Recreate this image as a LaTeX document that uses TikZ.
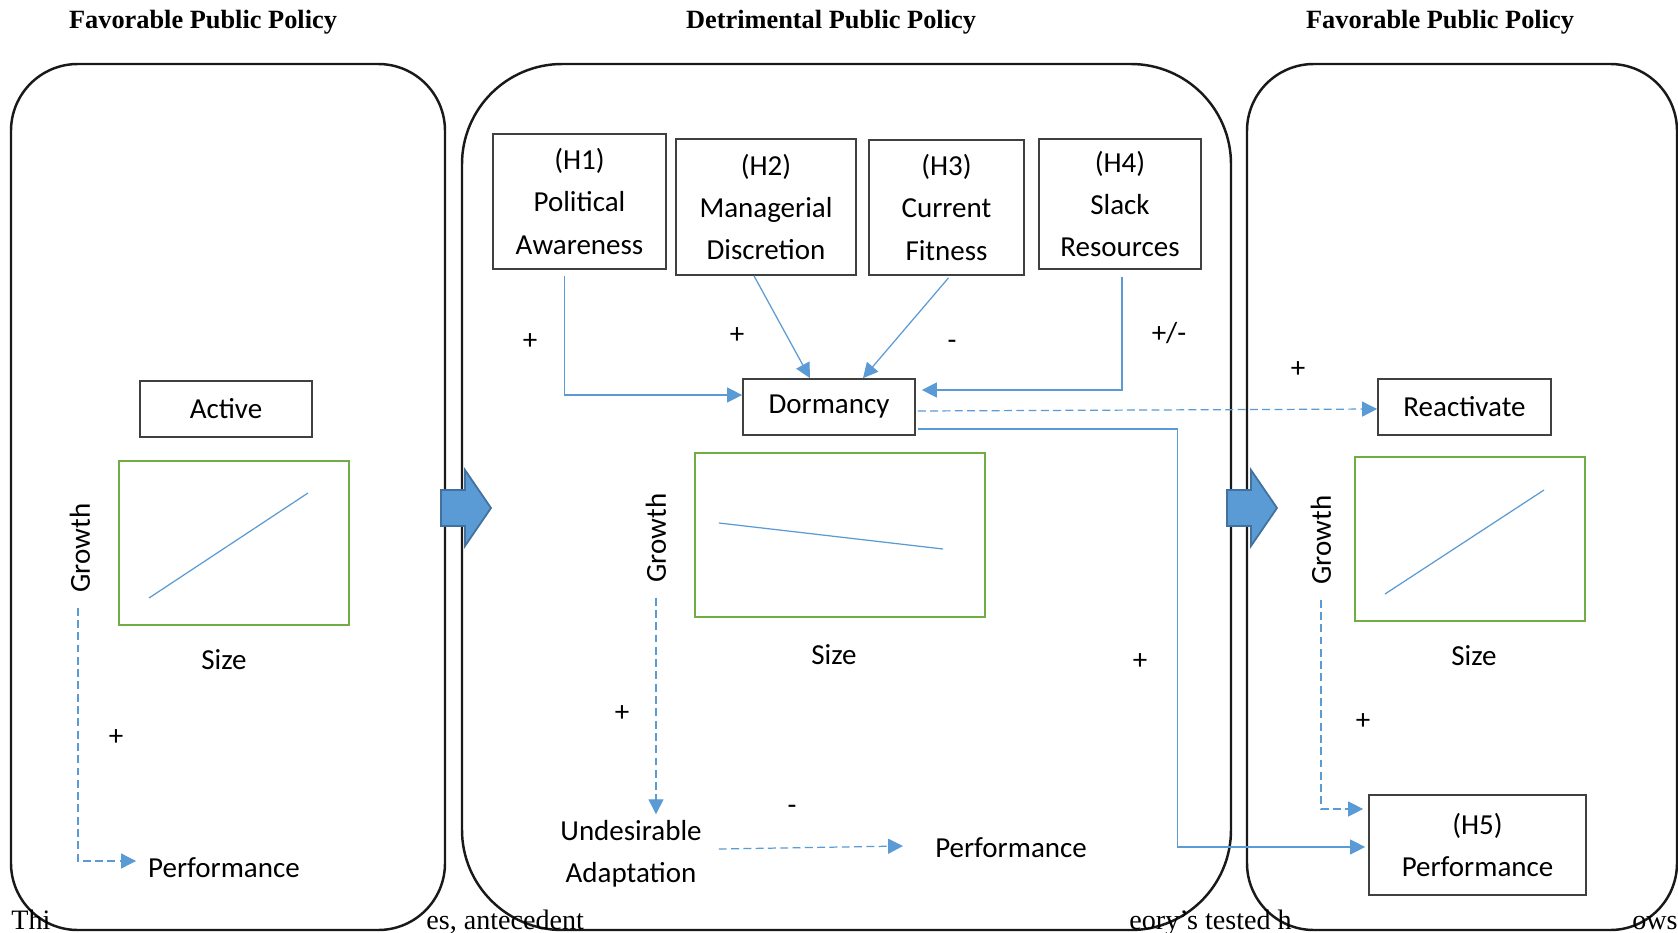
\documentclass[tikz,border=0pt]{standalone}
\usepackage{fontspec}
\setmainfont{Carlito}
\newfontfamily\titlefont{Liberation Serif}
\usetikzlibrary{arrows.meta,calc}

\definecolor{linkblue}{HTML}{5B9BD5}
\definecolor{arrowedge}{HTML}{41719C}
\definecolor{plotgreen}{HTML}{70AD47}
\definecolor{boxgray}{HTML}{404040}

\tikzset{
  panel/.style={draw=black!90, line width=1.4pt, fill=white},
  paneltitle/.style={font=\titlefont\bfseries\fontsize{15}{18}\selectfont, anchor=base},
  factor/.style={draw=boxgray, line width=1pt, align=center, inner sep=0pt},
  plotbox/.style={draw=plotgreen, line width=1.4pt, inner sep=0pt},
  trend/.style={linkblue, line width=0.7pt},
  link/.style={linkblue, line width=0.7pt, -{Triangle[length=8.5pt,width=8.5pt]}},
  dashlink/.style={link, dash pattern=on 4.5pt off 2.5pt},
  blockarrow/.style={fill=linkblue, draw=arrowedge, line width=1pt},
  caption/.style={font=\titlefont\fontsize{16}{19}\selectfont, anchor=base west, inner sep=0pt},
}

\begin{document}
\begin{tikzpicture}[x=0.02cm, y=-0.02cm, font=\fontsize{16.5}{24}\selectfont]
  \useasboundingbox (0,0) rectangle (1678,933);

  % Panels
  \draw[panel, rounded corners=38pt] (11,64) rectangle (445,930);
  \draw[panel, rounded corners=57pt] (462,64) rectangle (1231,930);
  \draw[panel, rounded corners=38pt] (1247,64) rectangle (1677,930);

  % Caption pieces showing between the panels
  \node[caption] (capA) at (11,929) {Thi};
  \node[caption] (capB) at (426,929) {es, antecedent};
  \node[caption] (capC) at (1129,929) {eory’s tested h};
  \node[caption] (capD) at (1632,929) {ows};

  % Titles
  \node[paneltitle] (titleL) at (203,29) {Favorable Public Policy};
  \node[paneltitle] (titleM) at (831,29) {Detrimental Public Policy};
  \node[paneltitle] (titleR) at (1440,29) {Favorable Public Policy};

  % Antecedents H1 to H4
  \node[factor, minimum width=3.46cm, minimum height=2.70cm] (h1) at (579.5,201.5) {(H1)\\Political\\Awareness};
  \node[factor, minimum width=3.60cm, minimum height=2.72cm] (h2) at (766,207) {(H2)\\Managerial\\Discretion};
  \node[factor, minimum width=3.10cm, minimum height=2.70cm] (h3) at (946.5,207.5) {(H3)\\Current\\Fitness};
  \node[factor, minimum width=3.24cm, minimum height=2.60cm] (h4) at (1120,204) {(H4)\\Slack\\Resources};

  % State boxes
  \node[factor, minimum width=3.44cm, minimum height=1.12cm] (active) at (226,409) {Active};
  \node[factor, minimum width=3.44cm, minimum height=1.12cm] (dorm) at (829,407) {Dormancy};
  \node[factor, minimum width=3.46cm, minimum height=1.12cm] (react) at (1464.5,407) {Reactivate};
  \node[factor, minimum width=4.34cm, minimum height=2.00cm] (h5) at (1477.5,845) {(H5)\\Performance};

  % Growth by size plots
  \node[plotbox, minimum width=4.60cm, minimum height=3.28cm] (plotL) at (234,543) {};
  \node[plotbox, minimum width=5.80cm, minimum height=3.28cm] (plotM) at (840,535) {};
  \node[plotbox, minimum width=4.60cm, minimum height=3.28cm] (plotR) at (1470,539) {};
  \draw[trend] (149,598) -- (308,493);
  \draw[trend] (719,523) -- (943,549);
  \draw[trend] (1385,594) -- (1544,490);

  \node[rotate=90] (growthL) at (80,548) {Growth};
  \node[rotate=90] (growthM) at (656,538) {Growth};
  \node[rotate=90] (growthR) at (1321,540) {Growth};
  \node (sizeL) at (224,660) {Size};
  \node (sizeM) at (834,655) {Size};
  \node (sizeR) at (1474,656) {Size};

  % Outcomes
  \node (perfL) at (224,868) {Performance};
  \node[align=center] (undes) at (631,854) {Undesirable\\Adaptation};
  \node (perfM) at (1011,848) {Performance};

  % Signs
  \node (s1) at (530,342) {+};
  \node (s2) at (737,336) {+};
  \node (s3) at (952,345) {-};
  \node (s4) at (1169,333) {+/-};
  \node (s5) at (1298,370) {+};
  \node (s6) at (1140,662) {+};
  \node (s7) at (116,738) {+};
  \node (s8) at (622,714) {+};
  \node (s9) at (792,810) {-};
  \node (s10) at (1363,722) {+};

  % Links into dormancy
  \draw[link] ($(h1.south)+(-15,6)$) |- ($(dorm.west)+(0,-12)$);
  \draw[link] ($(h2.south)+(-12,0)$) -- ($(dorm.north)+(-19,0)$);
  \draw[link] ($(h3.south)+(2,2)$) -- ($(dorm.north)+(34,0)$);
  \draw[link] ($(h4.south)+(2,7)$) |- ($(dorm.east)+(6,-17)$);

  % Links out of dormancy
  \draw[dashlink] ($(dorm.east)+(2,4)$) -- ($(react.west)+(0,2)$);
  \draw[link] ($(dorm.east)+(2,22)$) -- ++(260,0) |- ($(h5.west)+(-3,2)$);

  % Growth to performance
  \draw[dashlink] ($(growthL.west)+(-2,9)$) |- ($(perfL.west)+(-6,-7)$);
  \draw[dashlink] ($(growthM.west)+(0,9)$) -- (growthM.west |- undes.north);
  \draw[dashlink] ($(undes.east)+(11,-5)$) -- ($(perfM.west)+(-26,-2)$);
  \draw[dashlink] ($(growthR.west)+(0,9)$) |- ($(h5.west)+(-5,-36)$);

  % Block arrows between panels
  \foreach \x in {441,1227} {
    \draw[blockarrow] (\x,490) -- ++(24,0) -- ++(0,-20) -- ++(26,38)
      -- ++(-26,38) -- ++(0,-20) -- ++(-24,0) -- cycle;
  }
\end{tikzpicture}
\end{document}
